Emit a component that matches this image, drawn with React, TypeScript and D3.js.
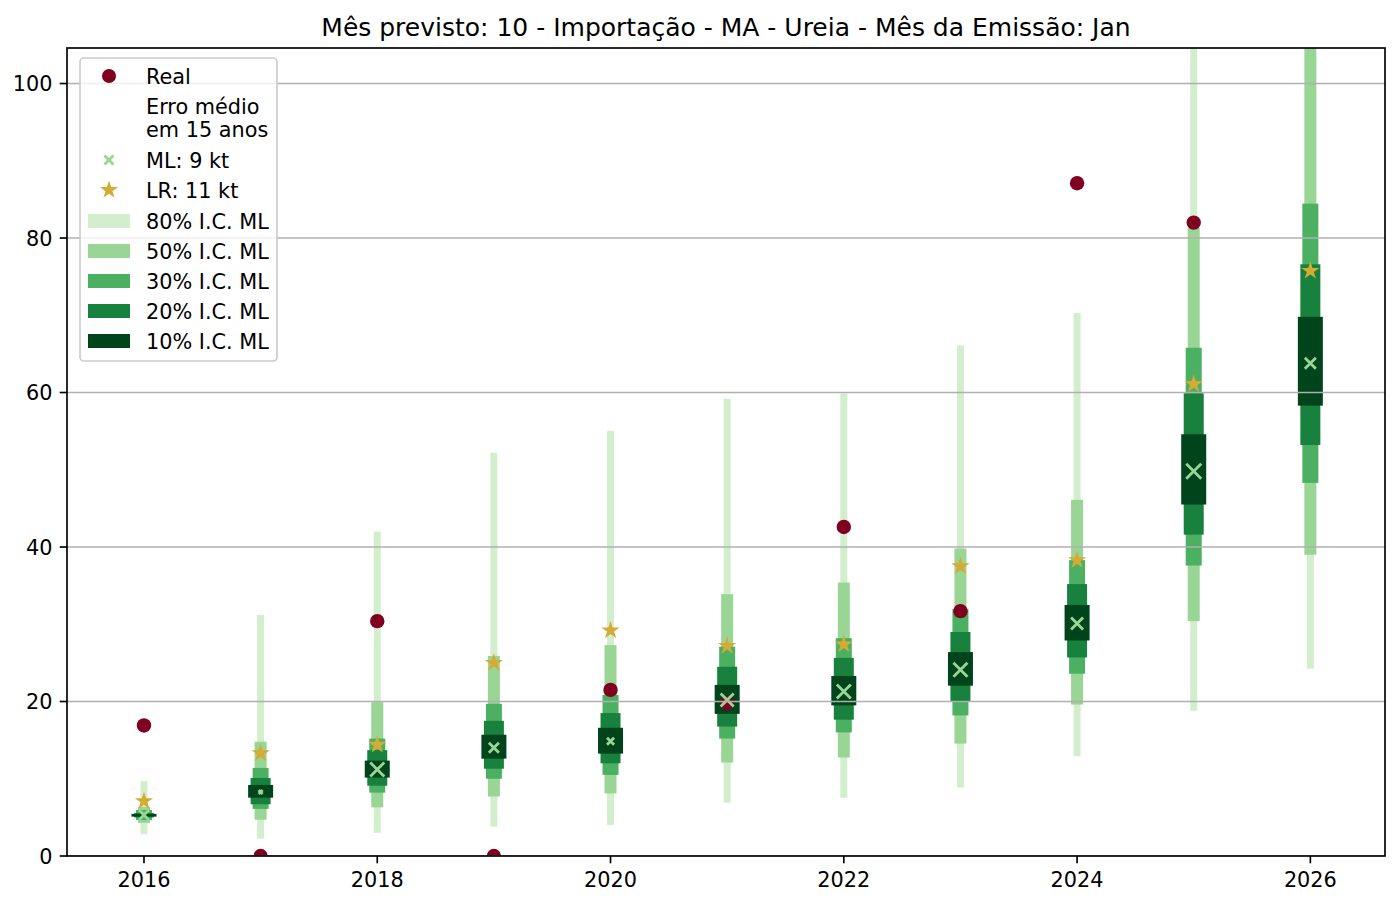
import React from 'react';
import * as d3 from 'd3';

// values
const years = [2016, 2017, 2018, 2019, 2020, 2021, 2022, 2023, 2024, 2025, 2026];
const real: (number | null)[] = [16.9, 0, 30.4, 0, 21.5, 19.8, 42.6, 31.7, 87.1, 82.0, null];
const ml = [5.3, 8.3, 11.2, 14.0, 14.85, 20.2, 21.3, 24.1, 30.1, 49.8, 63.8];
const lr = [7.1, 13.3, 14.4, 25.0, 29.2, 27.2, 27.4, 37.5, 38.3, 61.1, 75.75];
const mlSize = [10, 4, 14, 10, 7, 13, 14, 14, 12, 15, 11];

const ci80Low = [2.85, 2.25, 3.0, 3.8, 4.0, 6.9, 7.55, 8.85, 12.9, 18.8, 24.25];
const ci80High = [9.7, 31.2, 42.0, 52.2, 55.05, 59.2, 59.85, 66.1, 70.3, 112, 135];
const ci50Low = [4.3, 4.7, 6.3, 7.7, 8.1, 12.1, 12.75, 14.55, 19.6, 30.4, 39.0];
const ci50High = [6.35, 14.8, 19.9, 25.9, 27.3, 33.9, 35.4, 39.8, 46.1, 81.3, 108];
const ci30Low = [4.65, 6.1, 8.2, 10.0, 10.5, 15.2, 16.0, 18.2, 23.6, 37.6, 48.3];
const ci30High = [5.95, 11.4, 15.2, 19.7, 20.85, 27.1, 28.2, 32.0, 38.3, 65.8, 84.45];
const ci20Low = [5.0, 6.7, 9.1, 11.3, 12.0, 16.75, 17.65, 20.0, 25.7, 41.6, 53.2];
const ci20High = [5.55, 10.1, 13.7, 17.5, 18.5, 24.5, 25.65, 29.0, 35.2, 59.9, 76.6];
const ci10Low = [5.1, 7.55, 10.15, 12.6, 13.25, 18.4, 19.5, 22.05, 27.9, 45.5, 58.3];
const ci10High = [5.45, 9.2, 12.35, 15.7, 16.6, 22.15, 23.3, 26.4, 32.5, 54.6, 69.8];

const xTicks = [2016, 2018, 2020, 2022, 2024, 2026];
const yTicks = [0, 20, 40, 60, 80, 100];
const title = 'Mês previsto: 10 - Importação - MA - Ureia - Mês da Emissão: Jan';

const bands = [
  { label: '80% I.C. ML', low: ci80Low, high: ci80High, color: '#d3eecd', width: 7 },
  { label: '50% I.C. ML', low: ci50Low, high: ci50High, color: '#99d595', width: 12 },
  { label: '30% I.C. ML', low: ci30Low, high: ci30High, color: '#4bb062', width: 16 },
  { label: '20% I.C. ML', low: ci20Low, high: ci20High, color: '#17813d', width: 20 },
  { label: '10% I.C. ML', low: ci10Low, high: ci10High, color: '#00441b', width: 25 },
];

const W = 1400;
const H = 906;
const margin = { top: 48, right: 15, bottom: 50, left: 67 };
const FONT = 'DejaVu Sans, sans-serif';
const FS = 20.8; // 10pt at 150 dpi
const LW = 1.67; // 0.8pt at 150 dpi
const TICK = 7.3;
const REAL_COLOR = '#7f0020';
const LR_COLOR = '#d5ab36';
const ML_COLOR = '#99d595';

const starPath = (r: number) => d3.symbol().type(d3.symbolStar).size((r * r) / 0.8908130915292852)()!;

const XMark: React.FC<{ cx: number; cy: number; size: number }> = ({ cx, cy, size }) => {
  const h = size / 2;
  return (
    <path
      d={`M${cx - h},${cy - h}L${cx + h},${cy + h}M${cx - h},${cy + h}L${cx + h},${cy - h}`}
      stroke={ML_COLOR}
      strokeWidth={2.8}
      fill="none"
    />
  );
};

export default function App() {
  const x = d3.scaleLinear().domain([2015.34, 2026.64]).range([margin.left, W - margin.right]);
  const y = d3.scaleLinear().domain([0, 104.6]).range([H - margin.bottom, margin.top]);
  const x0 = margin.left;
  const x1 = W - margin.right;
  const y0 = H - margin.bottom;
  const y1 = margin.top;

  // legend rows (center y)
  const lx = 80;
  const ly = 58;
  const rowY = [76, 160, 190, 221, 251, 281, 311, 341];
  const tx = 146;
  const base = 7.5;

  return (
    <div style={{ position: 'absolute', left: 0, top: 0 }}>
      <svg width={W} height={H} style={{ display: 'block', background: '#fff' }} fontFamily={FONT}>
        <defs>
          <clipPath id="plot">
            <rect x={x0} y={y1} width={x1 - x0} height={y0 - y1} />
          </clipPath>
        </defs>

        <text x={(x0 + x1) / 2} y={35.5} textAnchor="middle" fontSize={25} fill="#000">
          {title}
        </text>

        <g clipPath="url(#plot)">
          {bands.map((b) =>
            years.map((yr, i) => (
              <rect
                key={b.label + yr}
                x={x(yr) - b.width / 2}
                y={y(b.high[i])}
                width={b.width}
                height={Math.max(y(b.low[i]) - y(b.high[i]), 0)}
                fill={b.color}
              />
            ))
          )}
          {years.map((yr, i) =>
            real[i] === null ? null : (
              <circle key={'r' + yr} cx={x(yr)} cy={y(real[i] as number)} r={7.2} fill={REAL_COLOR} />
            )
          )}
          {years.map((yr, i) => (
            <XMark key={'m' + yr} cx={x(yr)} cy={y(ml[i])} size={mlSize[i]} />
          ))}
          {years.map((yr, i) => (
            <path
              key={'s' + yr}
              d={starPath(9.6)}
              transform={`translate(${x(yr)},${y(lr[i])})`}
              fill={LR_COLOR}
            />
          ))}
          {yTicks.map((t) => (
            <line key={'g' + t} x1={x0} x2={x1} y1={y(t)} y2={y(t)} stroke="#b0b0b0" strokeWidth={LW} />
          ))}
        </g>

        {/* axes frame */}
        <rect x={x0} y={y1} width={x1 - x0} height={y0 - y1} fill="none" stroke="#000" strokeWidth={LW} />

        {xTicks.map((t) => (
          <g key={'xt' + t}>
            <line x1={x(t)} x2={x(t)} y1={y0} y2={y0 + TICK} stroke="#000" strokeWidth={LW} />
            <text x={x(t)} y={y0 + 31} textAnchor="middle" fontSize={FS} fill="#000">
              {t}
            </text>
          </g>
        ))}
        {yTicks.map((t) => (
          <g key={'yt' + t}>
            <line x1={x0 - TICK} x2={x0} y1={y(t)} y2={y(t)} stroke="#000" strokeWidth={LW} />
            <text x={x0 - 2 * TICK} y={y(t) + 7.5} textAnchor="end" fontSize={FS} fill="#000">
              {t}
            </text>
          </g>
        ))}

        {/* legend */}
        <g fontSize={FS} fill="#000">
          <rect x={lx} y={ly} width={197} height={303} rx={4} fill="#fff" fillOpacity={0.8} stroke="#cccccc" strokeWidth={LW} />
          <circle cx={109} cy={rowY[0]} r={7} fill={REAL_COLOR} />
          <text x={tx} y={rowY[0] + base}>Real</text>
          <text x={tx} y={106 + base}>Erro médio</text>
          <text x={tx} y={129 + base}>em 15 anos</text>
          <XMark cx={109} cy={rowY[1]} size={9} />
          <text x={tx} y={rowY[1] + base}>ML: 9 kt</text>
          <path d={starPath(9.6)} transform={`translate(109,${rowY[2]})`} fill={LR_COLOR} />
          <text x={tx} y={rowY[2] + base}>LR: 11 kt</text>
          {bands.map((b, i) => (
            <g key={'lg' + b.label}>
              <rect x={88} y={rowY[3 + i] - 7} width={42} height={14} fill={b.color} />
              <text x={tx} y={rowY[3 + i] + base}>{b.label}</text>
            </g>
          ))}
        </g>
      </svg>
    </div>
  );
}
